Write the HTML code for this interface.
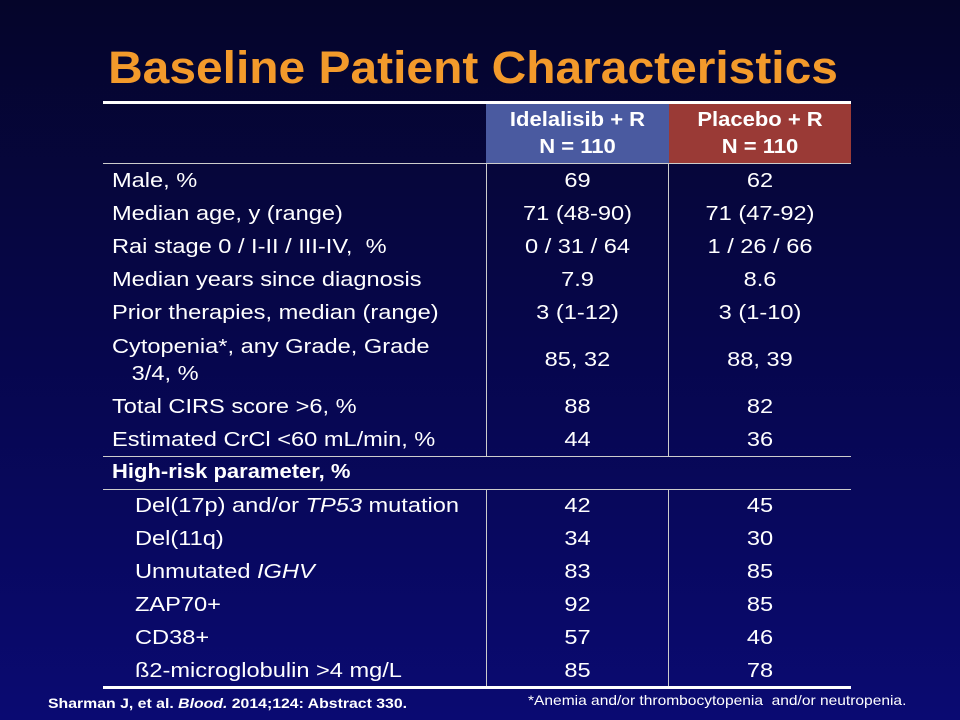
<!DOCTYPE html>
<html><head><meta charset="utf-8"><style>
html,body{margin:0;padding:0}
body{width:960px;height:720px;overflow:hidden;position:relative;background:linear-gradient(#05052a 0%,#06064a 45%,#0a0a72 100%);font-family:"Liberation Sans",Arial,sans-serif;color:#fff}
.a{position:absolute}
.t{position:absolute;font-size:20px;line-height:24px;white-space:nowrap;transform:scaleX(1.18);transform-origin:0 50%}
.c{text-align:center;transform-origin:50% 50%}
.hl{position:absolute;background:#fff}
</style></head><body>
<div class="a" style="left:0;width:946px;top:40px;text-align:center;font-size:45px;font-weight:bold;color:#f39a2b;line-height:56px;transform:scaleX(1.065);transform-origin:473px 50%">Baseline Patient Characteristics</div>
<div class="a" style="left:0;top:0;width:960px;height:720px">
<div class="hl" style="left:103px;top:101px;width:748px;height:3px"></div>
<div class="a" style="left:486px;top:104px;width:183px;height:59px;background:#4a5aa0;font-weight:bold;font-size:20px;line-height:27px;text-align:center;padding-top:3px;box-sizing:border-box"><div style="transform:scaleX(1.1)">Idelalisib + R<br>N = 110</div></div>
<div class="a" style="left:669px;top:104px;width:182px;height:59px;background:#9a3a36;font-weight:bold;font-size:20px;line-height:27px;text-align:center;padding-top:3px;box-sizing:border-box"><div style="transform:scaleX(1.1)">Placebo + R<br>N = 110</div></div>
<div class="hl" style="left:103px;top:163px;width:748px;height:1px;background:#ccc"></div>
<div class="hl" style="left:486px;top:164px;width:1px;height:292px;background:#ccc"></div>
<div class="hl" style="left:668px;top:164px;width:1px;height:292px;background:#ccc"></div>
<div class="hl" style="left:103px;top:456px;width:748px;height:1px;background:#ccc"></div>
<div class="hl" style="left:103px;top:489px;width:748px;height:1px;background:#ccc"></div>
<div class="hl" style="left:486px;top:489px;width:1px;height:198px;background:#ccc"></div>
<div class="hl" style="left:668px;top:489px;width:1px;height:198px;background:#ccc"></div>
<div class="hl" style="left:103px;top:686px;width:748px;height:3px"></div>

<div class="t" style="left:112px;top:169px">Male, %</div>
<div class="t c" style="left:486px;width:183px;top:169px">69</div>
<div class="t c" style="left:669px;width:182px;top:169px">62</div>

<div class="t" style="left:112px;top:202px">Median age, y (range)</div>
<div class="t c" style="left:486px;width:183px;top:202px">71 (48-90)</div>
<div class="t c" style="left:669px;width:182px;top:202px">71 (47-92)</div>

<div class="t" style="left:112px;top:235px">Rai stage 0 / I-II / III-IV,&nbsp; %</div>
<div class="t c" style="left:486px;width:183px;top:235px">0 / 31 / 64</div>
<div class="t c" style="left:669px;width:182px;top:235px">1 / 26 / 66</div>

<div class="t" style="left:112px;top:268px">Median years since diagnosis</div>
<div class="t c" style="left:486px;width:183px;top:268px">7.9</div>
<div class="t c" style="left:669px;width:182px;top:268px">8.6</div>

<div class="t" style="left:112px;top:301px">Prior therapies, median (range)</div>
<div class="t c" style="left:486px;width:183px;top:301px">3 (1-12)</div>
<div class="t c" style="left:669px;width:182px;top:301px">3 (1-10)</div>

<div class="t" style="left:112px;top:334px;line-height:27px">Cytopenia*, any Grade, Grade<br>&nbsp;&nbsp;&nbsp;3/4, %</div>
<div class="t c" style="left:486px;width:183px;top:348px">85, 32</div>
<div class="t c" style="left:669px;width:182px;top:348px">88, 39</div>

<div class="t" style="left:112px;top:395px">Total CIRS score &gt;6, %</div>
<div class="t c" style="left:486px;width:183px;top:395px">88</div>
<div class="t c" style="left:669px;width:182px;top:395px">82</div>

<div class="t" style="left:112px;top:428px">Estimated CrCl &lt;60 mL/min, %</div>
<div class="t c" style="left:486px;width:183px;top:428px">44</div>
<div class="t c" style="left:669px;width:182px;top:428px">36</div>

<div class="t" style="left:112px;top:460px;font-weight:bold;transform:scaleX(1.1)">High-risk parameter, %</div>

<div class="t" style="left:135px;top:494px">Del(17p) and/or <i>TP53</i> mutation</div>
<div class="t c" style="left:486px;width:183px;top:494px">42</div>
<div class="t c" style="left:669px;width:182px;top:494px">45</div>

<div class="t" style="left:135px;top:527px">Del(11q)</div>
<div class="t c" style="left:486px;width:183px;top:527px">34</div>
<div class="t c" style="left:669px;width:182px;top:527px">30</div>

<div class="t" style="left:135px;top:560px">Unmutated <i>IGHV</i></div>
<div class="t c" style="left:486px;width:183px;top:560px">83</div>
<div class="t c" style="left:669px;width:182px;top:560px">85</div>

<div class="t" style="left:135px;top:593px">ZAP70+</div>
<div class="t c" style="left:486px;width:183px;top:593px">92</div>
<div class="t c" style="left:669px;width:182px;top:593px">85</div>

<div class="t" style="left:135px;top:626px">CD38+</div>
<div class="t c" style="left:486px;width:183px;top:626px">57</div>
<div class="t c" style="left:669px;width:182px;top:626px">46</div>

<div class="t" style="left:135px;top:659px">ß2-microglobulin &gt;4 mg/L</div>
<div class="t c" style="left:486px;width:183px;top:659px">85</div>
<div class="t c" style="left:669px;width:182px;top:659px">78</div>
</div>
<div class="a" style="left:48px;top:695px;font-size:14px;font-weight:bold;white-space:nowrap;transform:scaleX(1.13);transform-origin:0 50%">Sharman J, et al. <i>Blood.</i> 2014;124: Abstract 330.</div>
<div class="a" style="left:528px;top:692px;font-size:14px;white-space:nowrap;transform:scaleX(1.11);transform-origin:0 50%">*Anemia and/or thrombocytopenia&nbsp; and/or neutropenia.</div>
</body></html>
